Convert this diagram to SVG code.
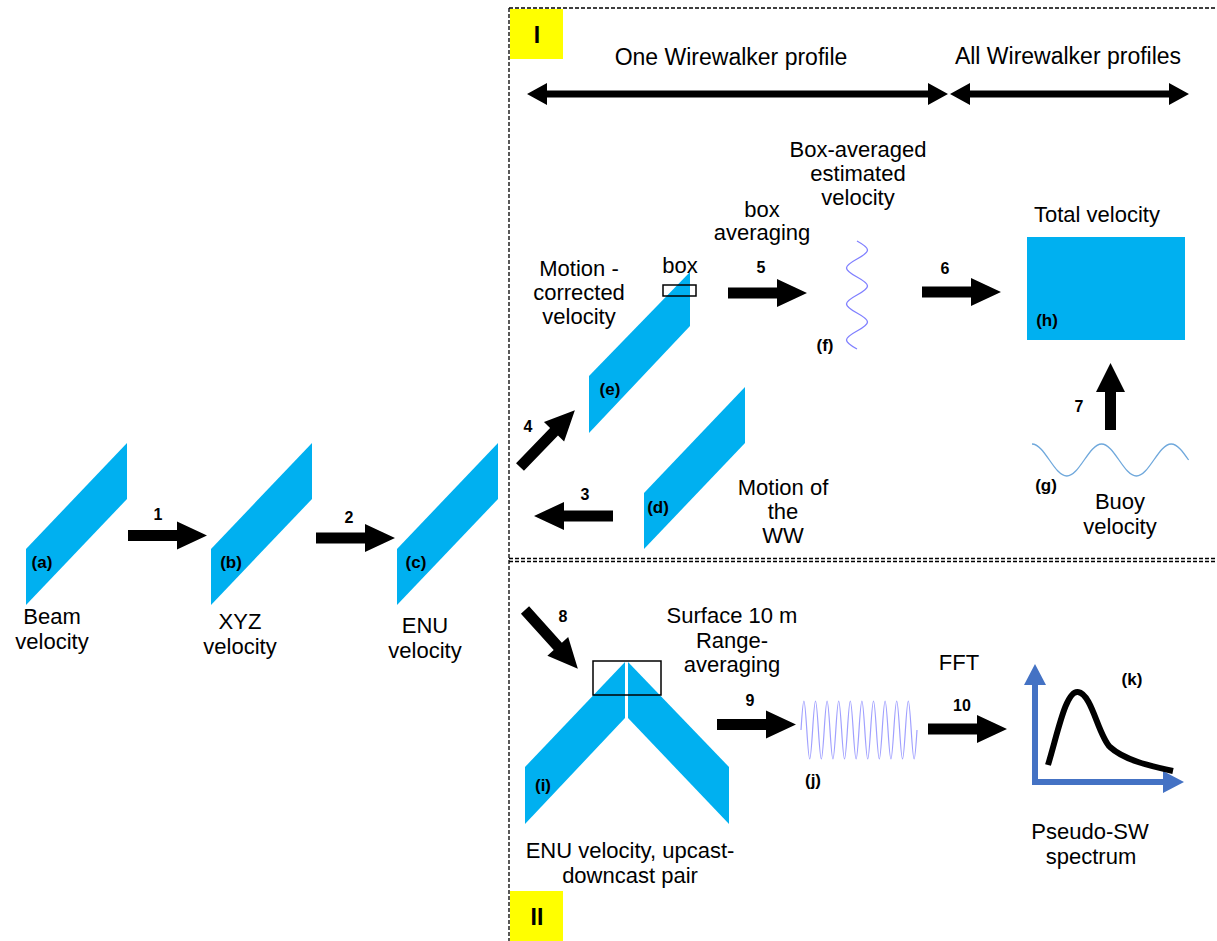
<svg xmlns="http://www.w3.org/2000/svg" width="1217" height="941" viewBox="0 0 1217 941">
<defs>
<style>
.t{font-family:"Liberation Sans",Arial,sans-serif;font-size:22px;fill:#000;text-anchor:middle}
.h{font-size:23px}
.b{font-family:"Liberation Sans",Arial,sans-serif;font-weight:bold;font-size:17px;fill:#000;text-anchor:middle}
.n{font-family:"Liberation Sans",Arial,sans-serif;font-weight:bold;font-size:16px;fill:#000;text-anchor:middle}
.rn{font-family:"Liberation Sans",Arial,sans-serif;font-weight:bold;font-size:23px;fill:#000;text-anchor:middle}
.cy{fill:#00B0F0}
.dash{stroke:#000;stroke-width:1.3;stroke-dasharray:4 2;fill:none}
.blk{fill:#000}
.box{fill:none;stroke:#000;stroke-width:1.5}
.yel{fill:#FFFF00}
</style>
<path id="ba" d="M0,-5.5 H49 V-14 L79,0 L49,14 V5.5 H0 Z"/>
</defs>
<rect width="1217" height="941" fill="#fff"/>

<g id="panels">
<line class="dash" x1="509" y1="8" x2="509" y2="941"/>
<line class="dash" x1="509" y1="8" x2="1217" y2="8"/>
<line class="dash" x1="509" y1="558.5" x2="1217" y2="558.5"/>
<line class="dash" x1="509" y1="561.5" x2="1217" y2="561.5"/>
<rect class="yel" x="510" y="9" width="53" height="50"/>
<text class="rn" x="537" y="43">I</text>
<rect class="yel" x="510" y="891" width="53" height="50"/>
<text class="rn" x="537" y="925">II</text>
<text class="t h" x="731" y="65">One Wirewalker profile</text>
<text class="t h" x="1068" y="64">All Wirewalker profiles</text>
</g>

<g id="node-a">
<polygon class="cy" points="26,549 127,443 127,499 26,605"/>
<text class="b" x="42" y="568">(a)</text>
<text class="t" x="52" y="624">Beam</text>
<text class="t" x="52" y="649">velocity</text>
</g>
<g id="node-b">
<polygon class="cy" points="211,549 312,443 312,499 211,605"/>
<text class="b" x="231" y="568">(b)</text>
<text class="t" x="240" y="629">XYZ</text>
<text class="t" x="240" y="654">velocity</text>
</g>
<g id="node-c">
<polygon class="cy" points="397,549 498,443 498,499 397,605"/>
<text class="b" x="416" y="568">(c)</text>
<text class="t" x="425" y="633">ENU</text>
<text class="t" x="425" y="658">velocity</text>
</g>

<g id="node-e">
<polygon class="cy" points="589,376 690,272 690,326 589,433"/>
<rect class="box" x="663" y="285" width="33" height="11"/>
<text class="t" x="680" y="273">box</text>
<text class="b" x="610" y="395">(e)</text>
<text class="t" x="579" y="276">Motion -</text>
<text class="t" x="579" y="300">corrected</text>
<text class="t" x="579" y="324">velocity</text>
</g>
<g id="node-d">
<polygon class="cy" points="644,493 745,387 745,443 644,549"/>
<text class="b" x="658" y="513">(d)</text>
<text class="t" x="783" y="495">Motion of</text>
<text class="t" x="783" y="519">the</text>
<text class="t" x="783" y="543">WW</text>
</g>
<g id="node-f">
<path fill="none" stroke="#7f7fff" stroke-width="1.3" d="M857,241 c 5.38,2.93 10.5,5.76 10.5,9 c 0,3.24 -5.12,6.07 -10.5,9 c -5.38,2.93 -10.5,5.76 -10.5,9 c 0,3.24 5.12,6.07 10.5,9 c 5.38,2.93 10.5,5.76 10.5,9 c 0,3.24 -5.12,6.07 -10.5,9 c -5.38,2.93 -10.5,5.76 -10.5,9 c 0,3.24 5.12,6.07 10.5,9 c 5.38,2.93 10.5,5.76 10.5,9 c 0,3.24 -5.12,6.07 -10.5,9 c -5.38,2.93 -10.5,5.76 -10.5,9 c 0,3.24 5.12,6.07 10.5,9"/>
<text class="b" x="825" y="351">(f)</text>
<text class="t" x="858" y="157">Box-averaged</text>
<text class="t" x="858" y="181">estimated</text>
<text class="t" x="858" y="205">velocity</text>
</g>
<g id="node-h">
<rect class="cy" x="1027" y="237" width="158" height="103"/>
<text class="b" x="1047" y="326">(h)</text>
<text class="t" x="1097" y="222">Total velocity</text>
</g>
<g id="node-g">
<path fill="none" stroke="#6fa8dc" stroke-width="1.3" d="M1032,444 c 6.27,0 11.73,7.8 17.4,16 c 5.67,8.2 11.13,16 17.4,16 c 6.27,0 11.73,-7.8 17.4,-16 c 5.67,-8.2 11.13,-16 17.4,-16 c 6.27,0 11.73,7.8 17.4,16 c 5.67,8.2 11.13,16 17.4,16 c 6.27,0 11.73,-7.8 17.4,-16 c 5.67,-8.2 11.13,-16 17.4,-16 c 6.27,0 11.73,7.8 17.4,16"/>
<text class="b" x="1046" y="491">(g)</text>
<text class="t" x="1120" y="509">Buoy</text>
<text class="t" x="1120" y="534">velocity</text>
</g>

<g id="node-i">
<polygon class="cy" points="525,767 625,662 625,718 525,824"/>
<polygon class="cy" points="628,662 729,767 729,824 628,718"/>
<rect class="box" x="593" y="661" width="68" height="34"/>
<text class="b" x="543" y="791">(i)</text>
<text class="t" x="630" y="858">ENU velocity, upcast-</text>
<text class="t" x="630" y="883">downcast pair</text>
<text class="t" x="732" y="623">Surface 10 m</text>
<text class="t" x="732" y="648">Range-</text>
<text class="t" x="732" y="672">averaging</text>
</g>
<g id="node-j">
<path fill="none" stroke="#a0a0ff" stroke-width="1.2" d="M801,730 c 0.95,-14.86 1.86,-29 2.9,-29 c 1.05,0 1.95,14.14 2.9,29 c 0.95,14.86 1.86,29 2.9,29 c 1.05,0 1.95,-14.14 2.9,-29 c 0.95,-14.86 1.86,-29 2.9,-29 c 1.05,0 1.95,14.14 2.9,29 c 0.95,14.86 1.86,29 2.9,29 c 1.05,0 1.95,-14.14 2.9,-29 c 0.95,-14.86 1.86,-29 2.9,-29 c 1.05,0 1.95,14.14 2.9,29 c 0.95,14.86 1.86,29 2.9,29 c 1.05,0 1.95,-14.14 2.9,-29 c 0.95,-14.86 1.86,-29 2.9,-29 c 1.05,0 1.95,14.14 2.9,29 c 0.95,14.86 1.86,29 2.9,29 c 1.05,0 1.95,-14.14 2.9,-29 c 0.95,-14.86 1.86,-29 2.9,-29 c 1.05,0 1.95,14.14 2.9,29 c 0.95,14.86 1.86,29 2.9,29 c 1.05,0 1.95,-14.14 2.9,-29 c 0.95,-14.86 1.86,-29 2.9,-29 c 1.05,0 1.95,14.14 2.9,29 c 0.95,14.86 1.86,29 2.9,29 c 1.05,0 1.95,-14.14 2.9,-29 c 0.95,-14.86 1.86,-29 2.9,-29 c 1.05,0 1.95,14.14 2.9,29 c 0.95,14.86 1.86,29 2.9,29 c 1.05,0 1.95,-14.14 2.9,-29 c 0.95,-14.86 1.86,-29 2.9,-29 c 1.05,0 1.95,14.14 2.9,29 c 0.95,14.86 1.86,29 2.9,29 c 1.05,0 1.95,-14.14 2.9,-29 c 0.95,-14.86 1.86,-29 2.9,-29 c 1.05,0 1.95,14.14 2.9,29 c 0.95,14.86 1.86,29 2.9,29 c 1.05,0 1.95,-14.14 2.9,-29 c 0.95,-14.86 1.86,-29 2.9,-29 c 1.05,0 1.95,14.14 2.9,29 c 0.95,14.86 1.86,29 2.9,29 c 1.05,0 1.95,-14.14 2.9,-29"/>
<text class="b" x="813" y="786">(j)</text>
</g>
<g id="node-k">
<path fill="#4472C4" d="M1032,785 V685 H1024 L1035,664 L1046,685 H1038 V779 H1163 V771 L1184,782 L1163,793 V785 Z"/>
<path fill="none" stroke="#000" stroke-width="6" d="M1048,765 C1058,732 1066,690 1078,692 C1092,694 1098,735 1110,747 C1124,760 1150,766 1173,771"/>
<text class="b" x="1132" y="685">(k)</text>
<text class="t" x="1090" y="839">Pseudo-SW</text>
<text class="t" x="1091" y="864">spectrum</text>
</g>

<g id="connectors">
<path class="blk" d="M527,94 L547,83 L547,90.5 H928 V83 L948,94 L928,105 V97.5 H547 V105 Z"/>
<path class="blk" d="M950,94 L970,83 L970,90.5 H1169 V83 L1189,94 L1169,105 V97.5 H970 V105 Z"/>
<use href="#ba" class="blk" transform="translate(128,535.5)"/>
<use href="#ba" class="blk" transform="translate(316,538)"/>
<use href="#ba" class="blk" transform="translate(613,516) rotate(180)"/>
<use href="#ba" class="blk" transform="translate(520,467) rotate(-46)"/>
<use href="#ba" class="blk" transform="translate(728,293)"/>
<use href="#ba" class="blk" transform="translate(922,292)"/>
<path class="blk" d="M1105,430 V392 H1096 L1110.5,363 L1125,392 H1116 V430 Z"/>
<use href="#ba" class="blk" transform="translate(525,610) rotate(48)"/>
<use href="#ba" class="blk" transform="translate(717,724.5)"/>
<use href="#ba" class="blk" transform="translate(928,729)"/>
<text class="n" x="158" y="520">1</text>
<text class="n" x="349" y="523">2</text>
<text class="n" x="585" y="500">3</text>
<text class="n" x="528" y="432">4</text>
<text class="n" x="761" y="273">5</text>
<text class="n" x="945" y="274">6</text>
<text class="n" x="1079" y="412">7</text>
<text class="n" x="563" y="622">8</text>
<text class="n" x="750" y="706">9</text>
<text class="n" x="962" y="711">10</text>
<text class="t" x="959" y="670">FFT</text>
<text class="t" x="762" y="217">box</text>
<text class="t" x="762" y="240">averaging</text>
</g>
</svg>
